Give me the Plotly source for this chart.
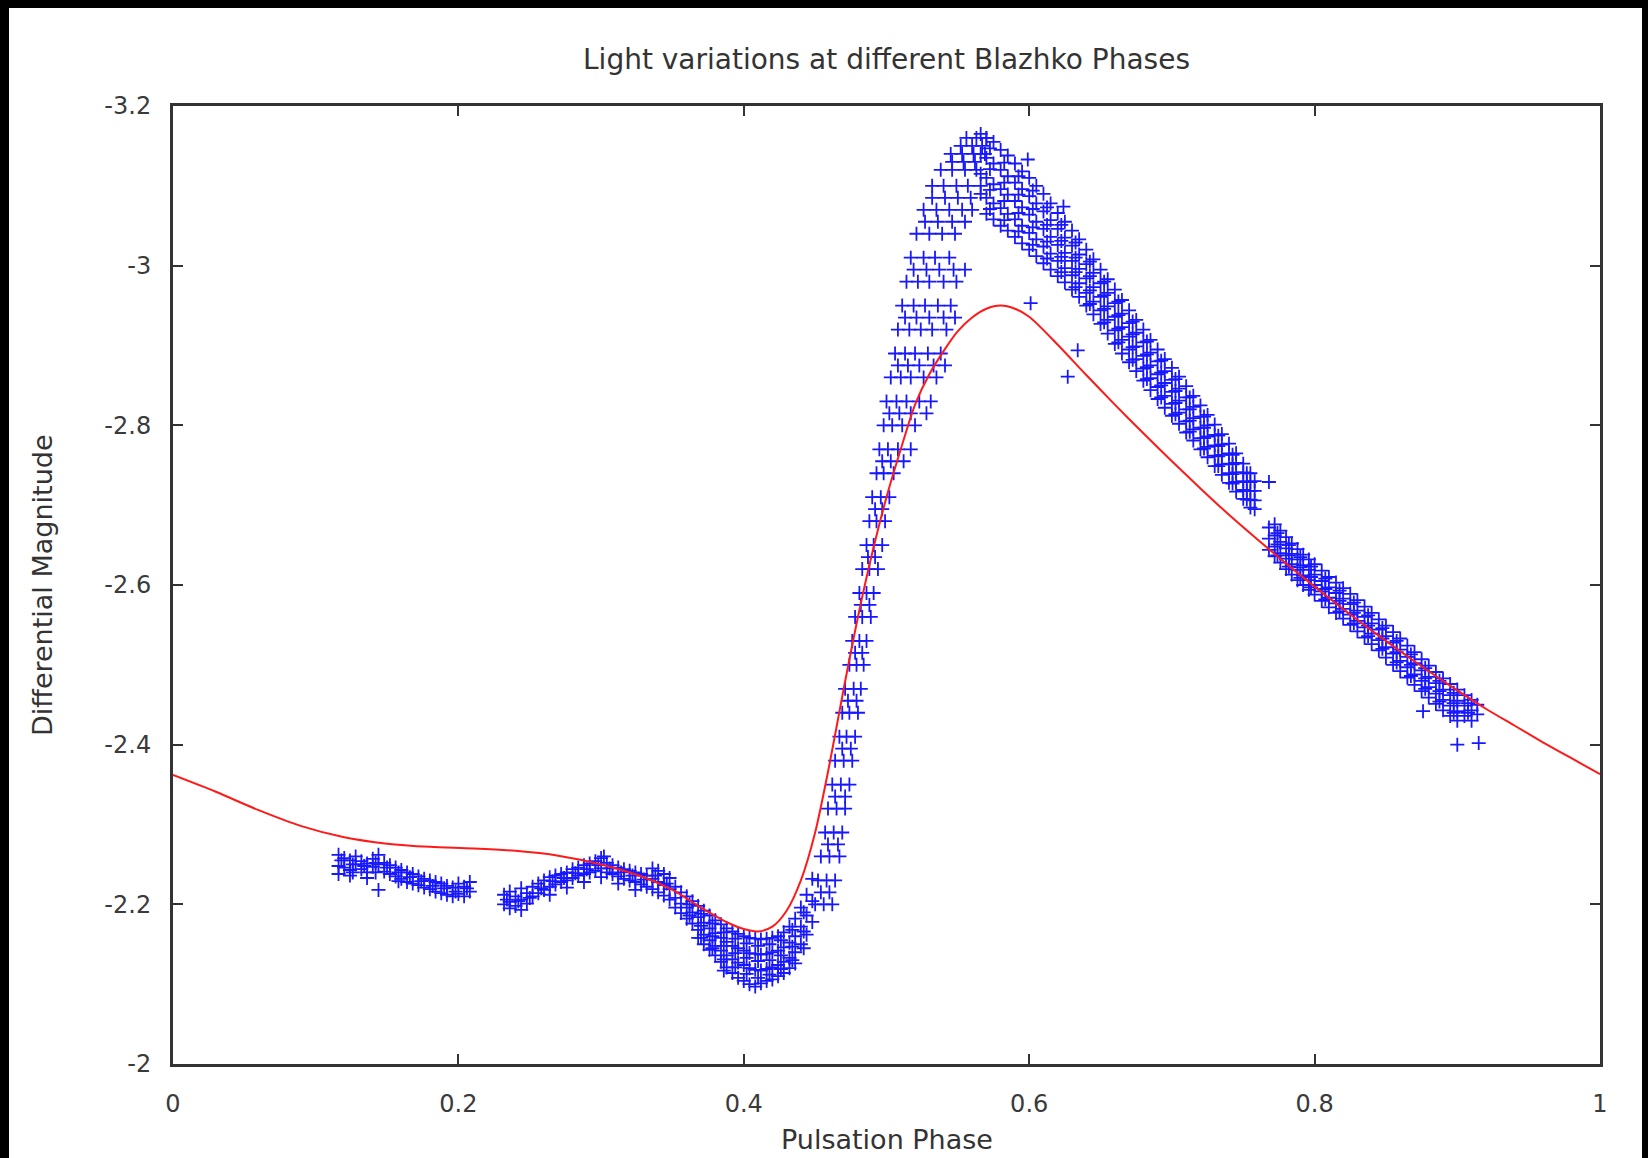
import plotly.graph_objects as go

# ---------------------------------------------------------------------------
# Axis ticks
x_ticks = [0, 0.2, 0.4, 0.6, 0.8, 1.0]
x_tick_text = ["0", "0.2", "0.4", "0.6", "0.8", "1"]
y_ticks = [-3.2, -3.0, -2.8, -2.6, -2.4, -2.2, -2.0]
y_tick_text = ["-3.2", "-3", "-2.8", "-2.6", "-2.4", "-2.2", "-2"]

# ---------------------------------------------------------------------------
# Fitted light curve (red)
model_phase = [0.00, 0.03, 0.06, 0.09, 0.12, 0.15, 0.18, 0.21, 0.24, 0.27,
               0.30, 0.33, 0.35, 0.37, 0.39, 0.40, 0.41, 0.42, 0.43, 0.44,
               0.45, 0.46, 0.47, 0.48, 0.49, 0.50, 0.51, 0.52, 0.53, 0.54,
               0.55, 0.56, 0.57, 0.58, 0.59, 0.60, 0.62, 0.64, 0.66, 0.68,
               0.70, 0.72, 0.74, 0.76, 0.78, 0.80, 0.82, 0.84, 0.86, 0.88,
               0.90, 0.92, 0.94, 0.96, 0.98, 1.00]
model_mag = [-2.362, -2.341, -2.318, -2.298, -2.284, -2.276, -2.272, -2.270, -2.267, -2.261,
             -2.250, -2.234, -2.218, -2.196, -2.176, -2.169, -2.166, -2.172, -2.192, -2.230,
             -2.290, -2.375, -2.470, -2.560, -2.640, -2.710, -2.770, -2.826, -2.864, -2.893,
             -2.918, -2.935, -2.946, -2.950, -2.946, -2.936, -2.901, -2.863, -2.826, -2.790,
             -2.755, -2.721, -2.688, -2.657, -2.627, -2.598, -2.570, -2.543, -2.517, -2.492,
             -2.468, -2.445, -2.424, -2.403, -2.383, -2.363]

# ---------------------------------------------------------------------------
# Observations (blue), grouped by stretch of the light curve.
# Each column phase has the magnitudes observed around it.
plateau1_phase = [0.116, 0.120, 0.124, 0.128, 0.132, 0.136, 0.140, 0.144, 0.148, 0.152,
                  0.156, 0.160, 0.164, 0.168, 0.172, 0.176, 0.180, 0.184, 0.188, 0.192,
                  0.196, 0.200, 0.204, 0.208,
                  0.118, 0.126, 0.134, 0.142, 0.150, 0.158, 0.166, 0.174, 0.182, 0.190,
                  0.198, 0.206]
plateau1_mag = [[-2.262, -2.248, -2.238], [-2.258, -2.246], [-2.255, -2.243, -2.236],
                [-2.260, -2.250], [-2.254, -2.244], [-2.251, -2.240, -2.233],
                [-2.257, -2.247], [-2.262, -2.250, -2.218], [-2.252, -2.241],
                [-2.249, -2.238], [-2.246, -2.235], [-2.243, -2.232], [-2.240, -2.228],
                [-2.238, -2.226], [-2.235, -2.224], [-2.232, -2.221], [-2.230, -2.219],
                [-2.228, -2.216], [-2.226, -2.214], [-2.223, -2.212], [-2.221, -2.210],
                [-2.226, -2.213], [-2.222, -2.210], [-2.228, -2.216],
                [-2.255], [-2.250, -2.240], [-2.248], [-2.252, -2.240], [-2.246],
                [-2.240, -2.229], [-2.234], [-2.229], [-2.223], [-2.220], [-2.216],
                [-2.220]]

plateau2_phase = [0.232, 0.236, 0.240, 0.244, 0.248, 0.252, 0.256, 0.260, 0.264, 0.268,
                  0.272, 0.276, 0.280, 0.284, 0.288, 0.292, 0.296, 0.300, 0.304, 0.308,
                  0.312, 0.316, 0.320, 0.324, 0.328, 0.332, 0.336, 0.340, 0.344, 0.348,
                  0.234, 0.242, 0.250, 0.258, 0.266, 0.274, 0.282, 0.290, 0.298, 0.306,
                  0.314, 0.322, 0.330, 0.338, 0.346]
plateau2_mag = [[-2.212, -2.200], [-2.216, -2.203, -2.195], [-2.210, -2.198],
                [-2.220, -2.206, -2.193], [-2.214, -2.201], [-2.222, -2.210],
                [-2.226, -2.214], [-2.230, -2.218], [-2.234, -2.222, -2.212],
                [-2.236, -2.225], [-2.238, -2.228], [-2.240, -2.230, -2.221],
                [-2.244, -2.233], [-2.246, -2.236], [-2.249, -2.238, -2.228],
                [-2.251, -2.240], [-2.254, -2.242], [-2.258, -2.245, -2.234],
                [-2.252, -2.240], [-2.249, -2.238], [-2.246, -2.235, -2.226],
                [-2.244, -2.232], [-2.242, -2.230], [-2.240, -2.228, -2.218],
                [-2.238, -2.225], [-2.236, -2.222], [-2.245, -2.232, -2.219],
                [-2.242, -2.228, -2.215], [-2.238, -2.224, -2.211],
                [-2.233, -2.219, -2.206],
                [-2.206], [-2.204], [-2.208], [-2.220], [-2.229], [-2.233], [-2.239],
                [-2.244], [-2.249], [-2.245], [-2.240], [-2.236], [-2.231], [-2.236],
                [-2.226]]

minimum_phase = [0.352, 0.356, 0.360, 0.364, 0.368, 0.372, 0.376, 0.380, 0.384, 0.388,
                 0.392, 0.396, 0.400, 0.404, 0.408, 0.412, 0.416, 0.420, 0.424, 0.428,
                 0.432, 0.436, 0.440, 0.444, 0.448,
                 0.362, 0.370, 0.378, 0.386, 0.394, 0.402, 0.410, 0.418, 0.426, 0.434,
                 0.442]
minimum_mag = [[-2.222, -2.208, -2.196], [-2.215, -2.201, -2.189], [-2.210, -2.196, -2.182],
               [-2.204, -2.190, -2.176], [-2.198, -2.184, -2.168, -2.158],
               [-2.192, -2.177, -2.162, -2.150], [-2.186, -2.170, -2.155, -2.143],
               [-2.180, -2.164, -2.148, -2.136], [-2.175, -2.158, -2.142, -2.128],
               [-2.170, -2.153, -2.136, -2.121], [-2.166, -2.148, -2.131, -2.114],
               [-2.163, -2.145, -2.127, -2.108], [-2.160, -2.142, -2.124, -2.104],
               [-2.158, -2.139, -2.120, -2.100], [-2.157, -2.138, -2.118, -2.097],
               [-2.156, -2.137, -2.117, -2.101], [-2.157, -2.138, -2.119, -2.104],
               [-2.158, -2.140, -2.121, -2.106], [-2.160, -2.142, -2.124, -2.110],
               [-2.165, -2.146, -2.128, -2.114], [-2.172, -2.152, -2.133, -2.120],
               [-2.182, -2.160, -2.140, -2.126], [-2.196, -2.172, -2.150],
               [-2.212, -2.186, -2.162], [-2.232, -2.204, -2.178],
               [-2.200, -2.186], [-2.188, -2.173, -2.158], [-2.176, -2.160, -2.145],
               [-2.165, -2.148, -2.131, -2.117], [-2.157, -2.139, -2.121],
               [-2.151, -2.133, -2.113], [-2.148, -2.129, -2.108],
               [-2.150, -2.130, -2.112], [-2.155, -2.136, -2.119],
               [-2.168, -2.147, -2.130], [-2.190, -2.166, -2.145]]

# Rising branch: rows of constant magnitude with the phases observed there
rise_mag = [-2.20, -2.23, -2.26, -2.29, -2.32, -2.35, -2.38, -2.41, -2.44, -2.47,
            -2.50, -2.53, -2.56, -2.59, -2.62, -2.65, -2.68, -2.71, -2.74, -2.77,
            -2.80, -2.83, -2.86, -2.89, -2.92, -2.95, -2.98, -3.01, -3.04, -3.07,
            -3.10, -3.12, -3.14, -3.16,
            -2.215, -2.275, -2.335, -2.395, -2.455, -2.515, -2.575, -2.635, -2.695,
            -2.755, -2.815, -2.875, -2.935, -2.995, -3.055, -3.085, -3.13, -3.15]
rise_phase = [[0.450, 0.456, 0.462], [0.452, 0.458, 0.464], [0.454, 0.460, 0.467],
              [0.457, 0.463, 0.469], [0.459, 0.465, 0.471], [0.462, 0.468, 0.474],
              [0.464, 0.470, 0.476], [0.467, 0.472, 0.478], [0.469, 0.474, 0.480],
              [0.471, 0.477, 0.482], [0.474, 0.479, 0.484], [0.476, 0.481, 0.486],
              [0.478, 0.483, 0.489], [0.481, 0.486, 0.491], [0.483, 0.488, 0.494],
              [0.486, 0.491, 0.497], [0.488, 0.493, 0.499], [0.490, 0.496, 0.502],
              [0.493, 0.498, 0.505], [0.495, 0.501, 0.508, 0.517],
              [0.498, 0.504, 0.511, 0.520], [0.500, 0.507, 0.514, 0.523, 0.531],
              [0.503, 0.510, 0.517, 0.526, 0.535], [0.506, 0.513, 0.520, 0.529, 0.538],
              [0.508, 0.516, 0.524, 0.532, 0.542], [0.511, 0.519, 0.527, 0.536, 0.545],
              [0.514, 0.522, 0.530, 0.540, 0.549], [0.517, 0.526, 0.534, 0.544],
              [0.521, 0.530, 0.539, 0.548], [0.526, 0.535, 0.544, 0.553, 0.560],
              [0.532, 0.540, 0.549, 0.557, 0.566], [0.538, 0.546, 0.555, 0.563],
              [0.545, 0.553, 0.561, 0.569], [0.556, 0.563, 0.570],
              [0.454, 0.460], [0.459, 0.466], [0.464, 0.471], [0.469, 0.475],
              [0.473, 0.479], [0.478, 0.483], [0.482, 0.488], [0.487, 0.492],
              [0.492, 0.497], [0.497, 0.503, 0.512], [0.502, 0.509, 0.517, 0.528],
              [0.508, 0.515, 0.523, 0.533, 0.541], [0.513, 0.521, 0.530, 0.540, 0.548],
              [0.519, 0.528, 0.537, 0.547, 0.555], [0.527, 0.536, 0.546, 0.555],
              [0.532, 0.541, 0.550, 0.559], [0.546, 0.554, 0.562],
              [0.552, 0.560, 0.567]]

decline_phase = [0.566, 0.570, 0.575, 0.580, 0.585, 0.590, 0.595, 0.600, 0.605, 0.610,
                 0.615, 0.620, 0.625, 0.630, 0.635, 0.640, 0.645, 0.650, 0.655, 0.660,
                 0.665, 0.670, 0.675, 0.680, 0.685, 0.690, 0.695, 0.700, 0.705, 0.710,
                 0.715, 0.720, 0.725, 0.730, 0.735, 0.740, 0.745, 0.750, 0.755, 0.758,
                 0.5725, 0.5825, 0.5925, 0.6025, 0.6125, 0.6225, 0.6325, 0.6425, 0.6525,
                 0.6625, 0.6725, 0.6825, 0.6925, 0.7025, 0.7125, 0.7225, 0.7325, 0.7425,
                 0.7525]
decline_mag = [[-3.165, -3.140, -3.115, -3.090],
               [-3.160, -3.135, -3.110, -3.085, -3.065],
               [-3.155, -3.128, -3.102, -3.078, -3.058],
               [-3.145, -3.120, -3.096, -3.072, -3.050],
               [-3.138, -3.112, -3.089, -3.065, -3.044],
               [-3.128, -3.104, -3.081, -3.058, -3.036],
               [-3.118, -3.096, -3.073, -3.050, -3.028],
               [-3.110, -3.087, -3.064, -3.041, -3.020],
               [-3.100, -3.078, -3.055, -3.033, -3.012],
               [-3.090, -3.068, -3.046, -3.024, -3.003],
               [-3.078, -3.057, -3.036, -3.015, -2.995],
               [-3.066, -3.046, -3.026, -3.006, -2.987],
               [-3.055, -3.035, -3.016, -2.997, -2.979],
               [-3.044, -3.025, -3.006, -2.988, -2.970],
               [-3.033, -3.014, -2.996, -2.978, -2.961],
               [-3.020, -3.002, -2.984, -2.966, -2.950],
               [-3.008, -2.991, -2.973, -2.955, -2.939],
               [-2.995, -2.978, -2.961, -2.944, -2.927],
               [-2.983, -2.966, -2.949, -2.932, -2.915],
               [-2.970, -2.953, -2.936, -2.919, -2.902],
               [-2.957, -2.940, -2.923, -2.907, -2.890],
               [-2.944, -2.928, -2.911, -2.895, -2.879],
               [-2.932, -2.916, -2.899, -2.883, -2.868],
               [-2.920, -2.904, -2.887, -2.871, -2.856],
               [-2.907, -2.891, -2.875, -2.859, -2.844],
               [-2.895, -2.880, -2.864, -2.848, -2.833],
               [-2.883, -2.868, -2.853, -2.837, -2.822],
               [-2.872, -2.857, -2.842, -2.827, -2.812],
               [-2.861, -2.846, -2.831, -2.816, -2.802],
               [-2.849, -2.835, -2.820, -2.805, -2.791],
               [-2.837, -2.823, -2.809, -2.795, -2.781],
               [-2.825, -2.811, -2.797, -2.784, -2.770],
               [-2.813, -2.800, -2.786, -2.773, -2.760],
               [-2.801, -2.788, -2.775, -2.762, -2.749],
               [-2.789, -2.776, -2.763, -2.751, -2.738],
               [-2.777, -2.765, -2.752, -2.740, -2.728],
               [-2.765, -2.753, -2.741, -2.729, -2.717],
               [-2.752, -2.741, -2.730, -2.719, -2.708],
               [-2.740, -2.729, -2.718, -2.707, -2.697],
               [-2.730, -2.718, -2.706, -2.695],
               [-3.147, -3.121, -3.095, -3.071], [-3.129, -3.104, -3.081, -3.057],
               [-3.112, -3.089, -3.066, -3.043], [-3.094, -3.071, -3.048, -3.026],
               [-3.073, -3.051, -3.030, -3.009], [-3.051, -3.031, -3.011, -2.992],
               [-3.029, -3.010, -2.992, -2.973], [-3.005, -2.987, -2.969, -2.952],
               [-2.980, -2.963, -2.946, -2.929], [-2.955, -2.938, -2.921, -2.904],
               [-2.930, -2.914, -2.898, -2.882], [-2.905, -2.889, -2.873, -2.858],
               [-2.881, -2.866, -2.850, -2.835], [-2.858, -2.843, -2.828, -2.814],
               [-2.835, -2.820, -2.806, -2.792], [-2.811, -2.797, -2.784, -2.771],
               [-2.787, -2.774, -2.761, -2.749], [-2.763, -2.751, -2.739, -2.727],
               [-2.740, -2.729, -2.718, -2.707]]

tail_phase = [0.768, 0.772, 0.776, 0.780, 0.784, 0.788, 0.792, 0.796, 0.800, 0.805,
              0.810, 0.815, 0.820, 0.825, 0.830, 0.835, 0.840, 0.845, 0.850, 0.855,
              0.860, 0.865, 0.870, 0.875, 0.880, 0.885, 0.890, 0.895, 0.900, 0.905,
              0.910, 0.914,
              0.774, 0.782, 0.790, 0.7975, 0.8075, 0.8175, 0.8275, 0.8375, 0.8475,
              0.8575, 0.8675, 0.8775, 0.8875, 0.8975, 0.9075]
tail_mag = [[-2.672, -2.658, -2.644], [-2.676, -2.662, -2.648, -2.636],
            [-2.668, -2.654, -2.640, -2.628], [-2.660, -2.646, -2.633, -2.620],
            [-2.652, -2.639, -2.626, -2.613], [-2.645, -2.632, -2.619, -2.606],
            [-2.638, -2.625, -2.612, -2.600], [-2.632, -2.619, -2.606, -2.594],
            [-2.626, -2.613, -2.600, -2.588], [-2.618, -2.605, -2.592, -2.580],
            [-2.610, -2.597, -2.584, -2.572], [-2.603, -2.590, -2.577, -2.565],
            [-2.596, -2.583, -2.570, -2.558], [-2.589, -2.576, -2.563, -2.550],
            [-2.581, -2.568, -2.555, -2.542], [-2.573, -2.560, -2.547, -2.534],
            [-2.565, -2.552, -2.539, -2.526], [-2.557, -2.544, -2.531, -2.518],
            [-2.549, -2.536, -2.522, -2.509], [-2.541, -2.528, -2.514, -2.500],
            [-2.533, -2.519, -2.505, -2.492], [-2.524, -2.510, -2.497, -2.484],
            [-2.516, -2.502, -2.488, -2.475], [-2.507, -2.493, -2.480, -2.467],
            [-2.499, -2.485, -2.472, -2.459], [-2.491, -2.477, -2.464, -2.451],
            [-2.483, -2.469, -2.456, -2.443], [-2.476, -2.462, -2.449, -2.436],
            [-2.469, -2.455, -2.442, -2.430], [-2.462, -2.449, -2.436],
            [-2.456, -2.443, -2.430], [-2.450, -2.438],
            [-2.665, -2.651, -2.637], [-2.650, -2.637, -2.623], [-2.635, -2.622, -2.609],
            [-2.623, -2.610, -2.597], [-2.608, -2.595, -2.582], [-2.593, -2.580, -2.567],
            [-2.578, -2.565, -2.552], [-2.562, -2.549, -2.536], [-2.546, -2.533, -2.520],
            [-2.530, -2.516, -2.503], [-2.513, -2.500, -2.486], [-2.496, -2.483, -2.470],
            [-2.480, -2.467, -2.454], [-2.465, -2.452, -2.440], [-2.452, -2.440]]

# Isolated points away from the main band
stray_phase = [0.599, 0.624, 0.601, 0.634, 0.627, 0.768, 0.900, 0.915, 0.876, 0.302]
stray_mag = [-3.133, -3.074, -2.953, -2.894, -2.861, -2.729, -2.400, -2.402, -2.442, -2.260]

# ---------------------------------------------------------------------------
obs_phase, obs_mag = [], []
for cols, mags in [(plateau1_phase, plateau1_mag), (plateau2_phase, plateau2_mag),
                   (minimum_phase, minimum_mag), (decline_phase, decline_mag),
                   (tail_phase, tail_mag)]:
    for p, ms in zip(cols, mags):
        for m in ms:
            obs_phase.append(p)
            obs_mag.append(m)
for m, ps in zip(rise_mag, rise_phase):
    for p in ps:
        obs_phase.append(p)
        obs_mag.append(m)
obs_phase += stray_phase
obs_mag += stray_mag

W, H = 1648, 1158
ML, MR, MT, MB = 173, 48, 106, 94
PW, PH = W - ML - MR, H - MT - MB


def px_x(px):
    return (px - ML) / PW


def px_y(py):
    return (H - MB - py) / PH


fig = go.Figure()

fig.add_trace(go.Scatter(
    x=obs_phase, y=obs_mag, mode="markers",
    marker=dict(symbol="cross-thin", size=10, color="#1818ff",
                line=dict(color="#1818ff", width=1.8)),
    showlegend=False, hoverinfo="x+y",
))

fig.add_trace(go.Scatter(
    x=model_phase, y=model_mag, mode="lines",
    line=dict(color="#ff1a1a", width=2, shape="spline", smoothing=0.8),
    showlegend=False,
))

axis_common = dict(
    showline=True, linecolor="#333333", linewidth=3, mirror="allticks",
    ticks="inside", ticklen=10, tickwidth=2, tickcolor="#333333",
    showgrid=False, zeroline=False,
    tickfont=dict(family="DejaVu Sans", size=24, color="#3a3a3a"),
)

fig.update_xaxes(range=[0, 1], tickvals=x_ticks, ticktext=x_tick_text,
                 ticklabelstandoff=16, **axis_common)
fig.update_yaxes(range=[-2.0, -3.2], tickvals=y_ticks, ticktext=y_tick_text,
                 ticklabelstandoff=14, **axis_common)

fig.update_layout(
    width=W, height=H, autosize=False,
    margin=dict(l=ML, r=MR, t=MT, b=MB, pad=0),
    paper_bgcolor="black", plot_bgcolor="white",
    title=dict(text="Light variations at different Blazhko Phases",
               font=dict(family="DejaVu Sans", size=28, color="#333333"),
               x=0.5, xref="paper", xanchor="center",
               y=1 - 59 / H, yref="container", yanchor="middle"),
    shapes=[dict(type="rect", xref="paper", yref="paper", layer="below",
                 x0=px_x(9), x1=px_x(1642), y0=px_y(H + 5), y1=px_y(8),
                 fillcolor="white", line=dict(width=0))],
    annotations=[
        dict(text="Pulsation Phase", xref="paper", yref="paper",
             x=0.5, y=px_y(1139), xanchor="center", yanchor="middle",
             showarrow=False,
             font=dict(family="DejaVu Sans", size=27, color="#333333")),
        dict(text="Differential Magnitude", xref="paper", yref="paper",
             x=px_x(42), y=0.5, xanchor="center", yanchor="middle",
             textangle=-90, showarrow=False,
             font=dict(family="DejaVu Sans", size=27, color="#333333")),
    ],
)

fig.write_html("out.html")
